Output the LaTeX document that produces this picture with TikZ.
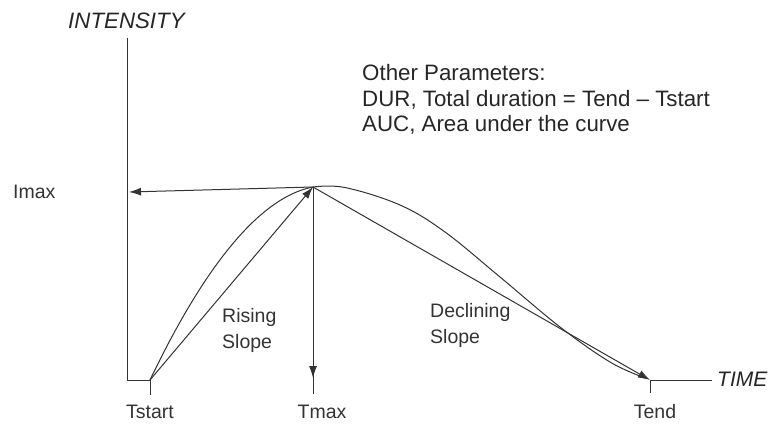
\documentclass[tikz,border=0pt]{standalone}
\usepackage{fontspec}
\setmainfont{Liberation Sans}
\usetikzlibrary{arrows.meta}
\begin{document}
\begin{tikzpicture}[x=1pt,y=-1pt,
  ln/.style={line width=1pt,draw=black!80},
  arr/.style={ln,-{Latex[length=12pt,width=8pt]}},
  lbl/.style={font=\fontsize{19.5}{26}\selectfont,text=black!80,inner sep=0pt},
  axl/.style={font=\fontsize{21}{24}\selectfont\itshape,text=black!85,inner sep=0pt}]
\useasboundingbox (0,0) rectangle (771,423);
\coordinate (top) at (127,38);
\coordinate (origin) at (127,380);
\coordinate (ts) at (150,380);
\coordinate (tsb) at (150,395);
\coordinate (pk) at (313,187);
\coordinate (tmb) at (313,394);
\coordinate (te) at (650,380);
\coordinate (teb) at (650,393);
\coordinate (tx) at (712,380);
\coordinate (imx) at (129,192);
% axes
\draw[ln] (top) -- (origin) -- (ts);
\draw[ln] (ts) -- (tsb);
\draw[ln] (te) -- (tx);
\draw[ln] (te) -- (teb);
% curve
\draw[ln] (ts) .. controls (185,307) and (245,200) .. (pk)
  plot[smooth,tension=0.6] coordinates {(pk) (345,187.5) (400,205) (445,232) (500,277) (560,327) (610,362) (645,378)};
% slopes
\draw[arr] (ts) -- (pk);
\draw[arr] (pk) -- (te);
\draw[arr] (pk) -- (imx);
\draw[ln] (pk) -- (tmb);
\draw[arr] (pk) -- (313,378);
% labels
\node[axl,font=\fontsize{22.3}{24}\selectfont\itshape,anchor=base west] (int) at (68,28) {INTENSITY};
\node[axl,anchor=base west] (time) at (717,386) {TIME};
\node[lbl,anchor=base west] (imaxl) at (13,198) {Imax};
\node[lbl,anchor=base] (tsl) at (150,418) {Tstart};
\node[lbl,anchor=base] (tml) at (322,418) {Tmax};
\node[lbl,anchor=base] (tel) at (655,418) {Tend};
\node[lbl,anchor=base west] (ris) at (222,322) {Rising};
\node[lbl,anchor=base west] (ris2) at (222,348) {Slope};
\node[lbl,anchor=base west] (dec) at (430,317) {Declining};
\node[lbl,anchor=base west] (dec2) at (430,343) {Slope};
\begin{scope}[every node/.style={font=\fontsize{22.3}{25}\selectfont,text=black!85,inner sep=0pt,anchor=base west}]
\node (oth1) at (362,80) {Other Parameters:};
\node (oth2) at (362,106) {DUR, Total duration = Tend – Tstart};
\node (oth3) at (362,131) {AUC, Area under the curve};
\end{scope}
\end{tikzpicture}
\end{document}
